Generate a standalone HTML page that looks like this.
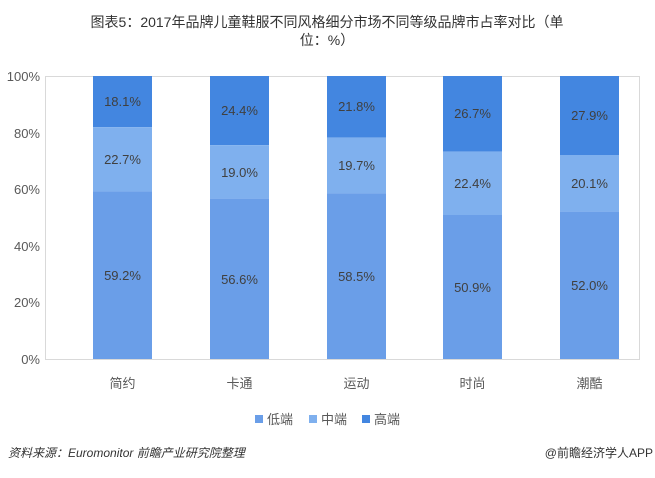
<!DOCTYPE html>
<html><head><meta charset="utf-8"><style>
body{margin:0;background:#fff;font-family:"Liberation Sans","Noto Sans CJK SC",sans-serif;}
</style></head><body>
<svg width="655" height="473" xmlns="http://www.w3.org/2000/svg" font-family="Liberation Sans, Noto Sans CJK SC, sans-serif">
<text x="327" y="27" text-anchor="middle" font-size="14" fill="#333">图表5：2017年品牌儿童鞋服不同风格细分市场不同等级品牌市占率对比（单</text>
<text x="327" y="45" text-anchor="middle" font-size="14" fill="#333">位：%）</text>
<rect x="45.5" y="76.5" width="594" height="283" fill="none" stroke="#d9d9d9"/>
<g font-size="13" fill="#595959" text-anchor="end">
<text x="40" y="81">100%</text><text x="40" y="138">80%</text><text x="40" y="194">60%</text>
<text x="40" y="251">40%</text><text x="40" y="307">20%</text><text x="40" y="364">0%</text>
</g>
<g id="bars"></g>
<g font-size="13" fill="#404040" text-anchor="middle">
<!-- bar 1 -->
<rect x="93" y="76" width="59" height="51.2" fill="#4386e0"/>
<rect x="93" y="127.2" width="59" height="64.2" fill="#7fb0ee"/>
<rect x="93" y="191.4" width="59" height="167.6" fill="#6a9ee8"/>
<text x="122.5" y="106">18.1%</text><text x="122.5" y="164">22.7%</text><text x="122.5" y="280">59.2%</text>
<!-- bar 2 -->
<rect x="210" y="76" width="59" height="69.1" fill="#4386e0"/>
<rect x="210" y="145.1" width="59" height="53.8" fill="#7fb0ee"/>
<rect x="210" y="198.8" width="59" height="160.2" fill="#6a9ee8"/>
<text x="239.5" y="115">24.4%</text><text x="239.5" y="177">19.0%</text><text x="239.5" y="284">56.6%</text>
<!-- bar 3 -->
<rect x="327" y="76" width="59" height="61.7" fill="#4386e0"/>
<rect x="327" y="137.7" width="59" height="55.7" fill="#7fb0ee"/>
<rect x="327" y="193.4" width="59" height="165.6" fill="#6a9ee8"/>
<text x="356.5" y="111">21.8%</text><text x="356.5" y="170">19.7%</text><text x="356.5" y="281">58.5%</text>
<!-- bar 4 -->
<rect x="443" y="76" width="59" height="75.6" fill="#4386e0"/>
<rect x="443" y="151.6" width="59" height="63.4" fill="#7fb0ee"/>
<rect x="443" y="215" width="59" height="144" fill="#6a9ee8"/>
<text x="472.5" y="118">26.7%</text><text x="472.5" y="188">22.4%</text><text x="472.5" y="292">50.9%</text>
<!-- bar 5 -->
<rect x="560" y="76" width="59" height="79" fill="#4386e0"/>
<rect x="560" y="155" width="59" height="56.9" fill="#7fb0ee"/>
<rect x="560" y="211.8" width="59" height="147.2" fill="#6a9ee8"/>
<text x="589.5" y="120">27.9%</text><text x="589.5" y="188">20.1%</text><text x="589.5" y="290">52.0%</text>
</g>
<g font-size="13" fill="#595959" text-anchor="middle">
<text x="122.5" y="388">简约</text><text x="239.5" y="388">卡通</text><text x="356.5" y="388">运动</text>
<text x="472.5" y="388">时尚</text><text x="589.5" y="388">潮酷</text>
</g>
<g font-size="13" fill="#595959">
<rect x="255" y="415" width="8" height="8" fill="#6a9ee8"/><text x="267" y="424">低端</text>
<rect x="309" y="415" width="8" height="8" fill="#7fb0ee"/><text x="321" y="424">中端</text>
<rect x="362" y="415" width="8" height="8" fill="#4386e0"/><text x="374" y="424">高端</text>
</g>
<text x="8" y="457" font-size="12" font-style="italic" fill="#333">资料来源：Euromonitor 前瞻产业研究院整理</text>
<text x="653" y="457" font-size="12" fill="#333" text-anchor="end">@前瞻经济学人APP</text>
</svg>
</body></html>
